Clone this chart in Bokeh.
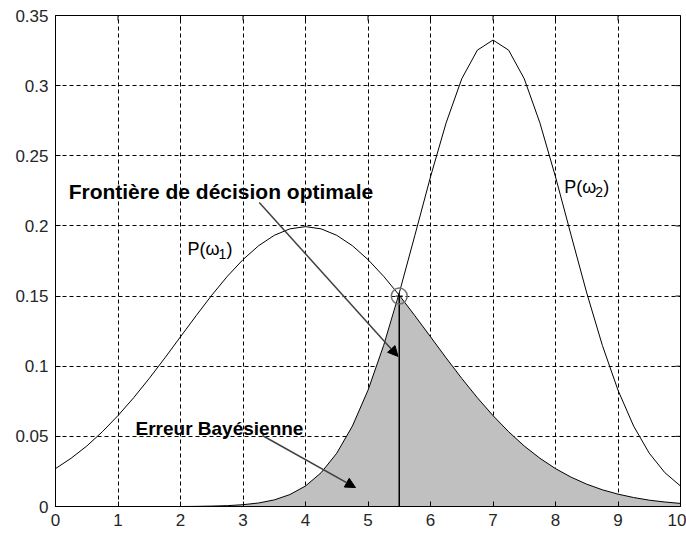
import numpy as np
from bokeh.plotting import figure
from bokeh.models import Range1d, FixedTicker, Arrow, NormalHead
from bokeh.core.properties import value
from bokeh.embed import file_html
from bokeh.resources import INLINE

# ---- data ----
x_vals = [0, 0.25, 0.5, 0.75, 1, 1.25, 1.5, 1.75, 2, 2.25, 2.5, 2.75, 3, 3.25, 3.5, 3.75,
          4, 4.25, 4.5, 4.75, 5, 5.25, 5.5, 5.75, 6, 6.25, 6.5, 6.75, 7, 7.25, 7.5, 7.75,
          8, 8.25, 8.5, 8.75, 9, 9.25, 9.5, 9.75, 10]
p_w1 = [0.0270, 0.0344, 0.0431, 0.0533, 0.0648, 0.0775, 0.0913, 0.1059, 0.1210, 0.1360,
        0.1506, 0.1641, 0.1760, 0.1859, 0.1933, 0.1979, 0.1995, 0.1979, 0.1933, 0.1859,
        0.1760, 0.1641, 0.1506, 0.1360, 0.1210, 0.1059, 0.0913, 0.0775, 0.0648, 0.0533,
        0.0431, 0.0344, 0.0270, 0.0209, 0.0159, 0.0119, 0.0088, 0.0064, 0.0045, 0.0032, 0.0022]
p_w2 = [0.0, 0.0, 0.0, 0.0, 0.0, 0.0, 0.0, 0.0, 0.0, 0.0001, 0.0003, 0.0006, 0.0013, 0.0025,
        0.0047, 0.0085, 0.0146, 0.0241, 0.0380, 0.0573, 0.0829, 0.1148, 0.1522, 0.1933,
        0.2350, 0.2735, 0.3049, 0.3253, 0.3325, 0.3253, 0.3049, 0.2735, 0.2350, 0.1933,
        0.1522, 0.1148, 0.0829, 0.0573, 0.0380, 0.0241, 0.0146]
x_ticks = [0, 1, 2, 3, 4, 5, 6, 7, 8, 9, 10]
y_ticks = [0, 0.05, 0.1, 0.15, 0.2, 0.25, 0.3, 0.35]
y_tick_labels = ["0", "0.05", "0.1", "0.15", "0.2", "0.25", "0.3", "0.35"]
boundary_x = 5.5
boundary_y = 0.15

p_err = np.minimum(np.array(p_w1), np.array(p_w2))

FONT = "Liberation Sans"
X_MIN, X_MAX = 0, 10
Y_MIN, Y_MAX = 0, 0.35

p = figure(width=686, height=533, output_backend="svg", toolbar_location=None,
           x_range=Range1d(X_MIN, X_MAX), y_range=Range1d(Y_MIN, Y_MAX),
           min_border_left=55, min_border_top=15, min_border_right=6, min_border_bottom=27)
p.background_fill_color = "white"
p.border_fill_color = "white"
p.outline_line_color = "black"
p.outline_line_width = 1

# axes
for ax in (p.xaxis[0], p.yaxis[0]):
    ax.major_tick_in = 5
    ax.major_tick_out = 0
    ax.minor_tick_in = 0
    ax.minor_tick_out = 0
    ax.axis_line_color = "black"
    ax.major_tick_line_color = "black"
    ax.major_label_text_font = FONT
    ax.major_label_text_font_size = "17px"
    ax.major_label_text_color = "#262626"
p.xaxis[0].ticker = FixedTicker(ticks=x_ticks)
p.yaxis[0].ticker = FixedTicker(ticks=y_ticks)
p.yaxis[0].major_label_overrides = {t: l for t, l in zip(y_ticks, y_tick_labels)}
p.xaxis[0].major_label_standoff = 7
p.yaxis[0].major_label_standoff = 7

# grid
p.xgrid.ticker = FixedTicker(ticks=x_ticks)
p.ygrid.ticker = FixedTicker(ticks=y_ticks)
for g in (p.xgrid[0], p.ygrid[0]):
    g.grid_line_color = "black"
    g.grid_line_dash = "4 3"
    g.grid_line_width = 1
    g.grid_line_alpha = 1

# inward ticks on the top and right frame edges (half of each dash is clipped by the frame)
p.scatter(x_ticks, [Y_MAX] * len(x_ticks), marker="dash", size=10, angle=np.pi / 2,
          line_color="black", line_width=1)
p.scatter([X_MAX] * len(y_ticks), y_ticks, marker="dash", size=10,
          line_color="black", line_width=1)

# shaded Bayes error
p.varea(x=x_vals, y1=0, y2=p_err, fill_color="#c0c0c0")

# curves
p.line(x_vals, p_w1, line_color="black", line_width=1)
p.line(x_vals, p_w2, line_color="black", line_width=1)

# decision boundary
p.segment(x0=[boundary_x], y0=[0], x1=[boundary_x], y1=[boundary_y],
          line_color="black", line_width=1.5)
p.scatter([boundary_x], [boundary_y], marker="circle", size=16, fill_color=None,
          line_color="#707070", line_width=1.5)
p.scatter([boundary_x], [boundary_y], marker="cross", size=7, line_color="black", line_width=1)

# arrows
p.add_layout(Arrow(x_start=3.26, y_start=0.2167, x_end=5.48, y_end=0.107,
                   line_color="#404040", line_width=1.5,
                   end=NormalHead(size=10, fill_color="black", line_color="black")))
p.add_layout(Arrow(x_start=3.31, y_start=0.0506, x_end=4.8, y_end=0.0135,
                   line_color="#404040", line_width=1.5,
                   end=NormalHead(size=10, fill_color="black", line_color="black")))

# annotation texts
p.text(x=[0.21], y=[0.2247], text=["Frontière de décision optimale"],
       text_font=value(FONT), text_font_size="21px", text_font_style="bold",
       text_baseline="alphabetic", text_align="left", text_color="black")
p.text(x=[1.28], y=[0.0556], text=["Erreur Bayésienne"],
       text_font=value(FONT), text_font_size="19px", text_font_style="bold",
       text_baseline="alphabetic", text_align="left", text_color="black")

# curve labels P(ω1), P(ω2)
for lx, ly, sub in [(2.11, 0.1832, "1"), (8.14, 0.2274, "2")]:
    p.text(x=[lx], y=[ly], text=["P(ω"], text_font=value(FONT), text_font_size="18px",
           text_baseline="alphabetic", text_align="left", text_color="black")
    p.text(x=[lx], y=[ly], text=[sub], x_offset=31, y_offset=5, text_font=value(FONT),
           text_font_size="14px", text_baseline="alphabetic", text_align="left",
           text_color="black")
    p.text(x=[lx], y=[ly], text=[")"], x_offset=39, text_font=value(FONT),
           text_font_size="18px", text_baseline="alphabetic", text_align="left",
           text_color="black")

open("out.html", "w").write(file_html(p, INLINE))
